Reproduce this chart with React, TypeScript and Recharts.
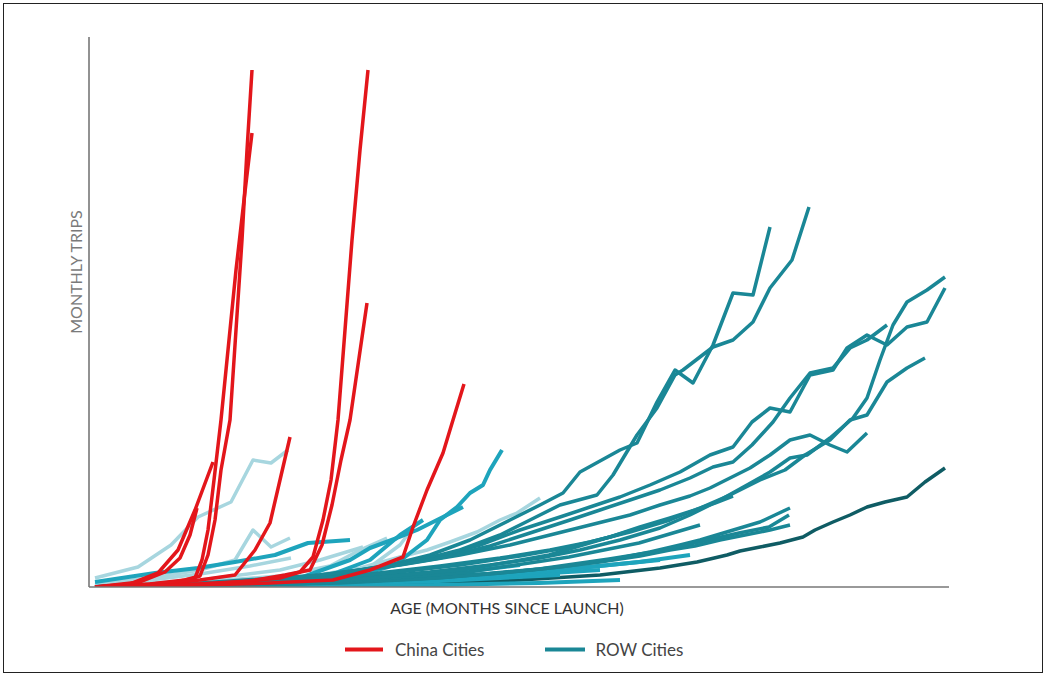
import { LineChart, Line, XAxis, YAxis } from "recharts";

// [age in months, monthly trips (index units)]
type Pt = [number, number];

// China cities
const chinaA: Pt[] = [[0.6, 0], [6.1, 0.6], [9.6, 1.4], [11.1, 2.2], [11.9, 6.4], [12.6, 13.4], [13.2, 23.4], [14.1, 33.4], [14.7, 51.4], [15.3, 69.4], [15.8, 87.4], [16.3, 103.4]];
const chinaB: Pt[] = [[0.6, 0], [5.1, 0.4], [8.6, 1], [10.6, 1.8], [11.3, 5.4], [11.9, 11.4], [12.5, 21.4], [13.2, 33.4], [13.9, 47.4], [14.7, 63.4], [15.5, 77.4], [16.3, 90.8]];
const chinaC: Pt[] = [[0.6, 0], [4.1, 0.6], [6.9, 2.8], [8.9, 7.4], [10.6, 15.4], [12.4, 25]];
const chinaD: Pt[] = [[0.6, 0], [5.1, 1], [7.6, 3], [9.1, 5.8], [10.1, 10.4], [10.8, 15.8]];
const chinaE: Pt[] = [[0.6, 0], [6.1, 0.4], [11.1, 1.4], [14.6, 2.4], [16.6, 7.4], [18.1, 12.8], [19.1, 21.4], [20.1, 30]];
const chinaF: Pt[] = [[0.6, 0], [9.1, 0.4], [15.1, 1], [19.1, 1.8], [21.1, 3], [22.4, 6], [23.4, 13.4], [24.2, 21.4], [24.9, 33.4], [25.6, 51.4], [26.3, 69.4], [27.1, 87.4], [27.9, 103.4]];
const chinaG: Pt[] = [[0.6, 0], [11.1, 0.6], [16.1, 1.2], [19.6, 2.4], [22.1, 3.4], [23.3, 8.4], [24.3, 16.4], [25.2, 25.4], [26.1, 33.4], [26.9, 44.4], [27.8, 56.8]];
const chinaH: Pt[] = [[0.6, 0], [11.1, 0.4], [18.1, 0.8], [24.4, 1.4], [28.1, 3.4], [31.4, 6], [32.4, 12], [33.8, 19.4], [35.4, 26.8], [36.4, 33.4], [37.5, 40.6]];

// ROW cities, light (early launches)
const rowLight1: Pt[] = [[0.6, 1.8], [4.9, 4], [8.2, 8.4], [10.9, 14], [14.2, 17], [16.4, 25.4], [18.2, 24.8], [19.9, 27.4]];
const rowLight2: Pt[] = [[0.6, 0.6], [6.1, 1.8], [11.1, 3.4], [14.6, 5.4], [16.4, 11.4], [18.2, 8], [20.1, 9.8]];
const rowLight3: Pt[] = [[0.6, 0.4], [6.1, 1.4], [11.1, 2.6], [16.1, 4.2], [20.2, 5.8]];
const rowLight4: Pt[] = [[0.6, 0.2], [11.1, 1], [19.1, 2.2], [24.1, 4.2], [27.1, 7.4], [29.8, 9.8]];
const rowLight5: Pt[] = [[0.6, 0.2], [16.1, 1], [24.1, 2.2], [28.1, 4], [31.1, 8.4], [32.6, 12.4]];
const rowLight6: Pt[] = [[0.6, 0.2], [11.1, 0.6], [21.1, 1.8], [27.1, 3.8], [31.1, 6], [33.8, 7.4], [36.1, 9], [38.8, 11], [41.1, 13.4], [42.8, 14.8], [45.1, 17.8]];
const rowLight7: Pt[] = [[0.6, 0.2], [11.1, 1.4], [19.1, 3.4], [23.1, 5.4], [27.4, 8]];
const rowLight8: Pt[] = [[0.6, 0], [15, 0.4], [25, 0.6], [31, 0.8]];

// ROW cities, mid cyan
const rowCyan1: Pt[] = [[0.6, 0], [6.1, 0.2], [16.1, 0.8], [23.1, 1.8], [28.1, 3], [30.6, 4.4], [32.1, 6.8], [33.8, 9.4], [35.1, 13.4], [36.8, 16], [38.1, 18.8], [39.4, 20.4], [40.1, 23.4], [41.3, 27.4]];
const rowCyan2: Pt[] = [[0.6, 0], [11.1, 0.4], [21.1, 1.8], [26.1, 5.4], [28.1, 7.8], [30.8, 9.8], [32.8, 11.4], [34.8, 13.4], [37.4, 16]];
const rowCyan3: Pt[] = [[0.6, 1], [6.6, 2.8], [10.9, 3.8], [14.6, 5], [18.6, 6.4], [21.9, 8.8], [26.1, 9.4]];
const rowCyan4: Pt[] = [[0.6, 0], [16.1, 0.6], [24.1, 2.4], [28.1, 5.4], [31.1, 10.4], [33.4, 13.4]];
const rowBase1: Pt[] = [[0.6, 0], [20, 0.2], [35, 0.4], [45, 0.8], [53.1, 1.4]];
const rowBase2: Pt[] = [[0.6, 0], [20, 0.4], [35, 1.2], [47.1, 2.4]];
const rowBase3: Pt[] = [[0.6, 0], [25, 0.8], [40, 2], [51.1, 3.4]];
const rowBase4: Pt[] = [[0.6, 0], [25, 1], [40, 2.6], [50, 4], [57.1, 5.4]];
const rowBase5: Pt[] = [[0.6, 0], [20, 0.8], [35, 2.4], [43.1, 4.4]];
const rowBase6: Pt[] = [[0.6, 0], [30, 1.2], [45, 3], [55, 5], [60.1, 6.4]];

// ROW cities, teal
const rowTeal1: Pt[] = [[0.6, 0], [6.1, 0.2], [16.1, 1], [24.1, 2.4], [30.1, 4.4], [34.1, 6.4], [38.1, 9.4], [42.1, 13.4], [45.1, 16.4], [47.4, 18.8], [49.1, 23], [53.1, 27.4], [54.8, 28.8], [56.8, 37], [58.6, 43.4], [60.4, 40.8], [62.4, 48.4], [64.4, 58.8], [66.4, 58.4], [68.1, 72]];
const rowTeal2: Pt[] = [[0.6, 0], [9.1, 0.2], [19.1, 1.4], [27.1, 3.4], [33.1, 5.4], [37.1, 7.4], [41.1, 10.4], [44.1, 13.4], [47.1, 16.4], [50.8, 18.4], [52.4, 22.4], [54.8, 30.4], [56.8, 35.8], [58.6, 42.4], [59.4, 43.4], [62.4, 48], [64.4, 49.4], [66.4, 53], [68.1, 59.8], [70.3, 65.4], [72, 76]];
const rowTeal3: Pt[] = [[0.6, 0], [16.1, 0.8], [27.1, 1.8], [34.1, 3], [40.1, 4.4], [45.1, 5.8], [49.1, 7.4], [53.1, 9.4], [57.1, 11.8], [60.1, 14.4], [63.1, 17.4], [65.8, 20.4], [68.1, 23], [70.1, 25.8], [71.8, 26.4], [74.1, 29.8], [76.4, 33.8], [77.8, 37.8], [79.1, 45.4], [80.4, 52.4], [81.8, 57], [83.8, 59.4], [85.6, 62]];
const rowTeal4: Pt[] = [[0.6, 0], [13.1, 0.8], [23.1, 2.2], [30.1, 4.2], [35.1, 6.2], [39.1, 8.4], [43.1, 11.4], [47.1, 14], [50.1, 16], [53.1, 18], [56.1, 20.4], [59.1, 23], [62.1, 26.4], [64.4, 28], [66.3, 33], [68.1, 35.8], [70.1, 35], [72.1, 42.4], [74.4, 43.4], [75.8, 47.8], [77.8, 50.4], [79.8, 48.4], [81.8, 52], [83.8, 53], [85.6, 59.8]];
const rowTeal5: Pt[] = [[0.6, 0], [11.1, 0.6], [21.1, 1.8], [29.1, 3.8], [35.1, 5.8], [40.1, 8.2], [44.1, 10.8], [48.1, 13.4], [51.1, 15.4], [54.1, 17.4], [57.1, 19.4], [60.1, 21.8], [62.4, 24], [64.4, 25], [66.3, 28.4], [68.4, 33], [70.1, 37.8], [72.1, 42.8], [74.4, 43.8], [76.1, 47.8], [77.8, 49.4], [79.8, 52.4]];
const rowTeal6: Pt[] = [[0.6, 0], [9.1, 0.4], [19.1, 1.2], [28.1, 2.6], [35.1, 4.2], [41.1, 5.8], [46.1, 7.4], [50.1, 9], [54.1, 11], [58.1, 13.4], [61.1, 15.8], [64.1, 18.4], [67.1, 21.4], [69.6, 23.4], [71.6, 26.4], [74.1, 29.4], [76.1, 33.4], [77.8, 34.4], [79.8, 41], [81.8, 43.8], [83.6, 45.8]];
const rowTeal7: Pt[] = [[0.6, 0], [11.1, 0.8], [23.1, 2.4], [31.1, 4.4], [37.1, 6.4], [42.1, 8.4], [46.1, 10.4], [50.1, 12.4], [54.1, 14.4], [57.1, 16.4], [60.1, 18.2], [62.1, 19.8], [64.1, 21.8], [66.1, 23.8], [68.1, 26.4], [70.1, 29.4], [72.1, 30.4], [74.1, 28.4], [75.8, 27], [77.8, 30.8]];
const rowTeal8: Pt[] = [[0.6, 0], [16.1, 0.4], [26.1, 1], [34.1, 1.8], [41.1, 2.8], [47.1, 4], [52.1, 5.4], [56.1, 7], [59.1, 8.4], [61.1, 9.4], [63.1, 10.6], [65.1, 11.8], [67.1, 13], [68.6, 14.4], [70.1, 15.8]];
const rowTeal9: Pt[] = [[0.6, 0], [11.1, 0.2], [25.1, 0.8], [33.1, 1.6], [40.1, 2.6], [46.1, 3.8], [51.1, 5], [55.1, 6.2], [58.1, 7.4], [60.6, 8.2], [63.1, 9.4], [65.6, 10.4], [68.1, 11.4], [70.1, 12.4]];
const rowTeal10: Pt[] = [[0.6, 0], [20, 0.6], [35, 1.8], [45, 3.6], [52, 5.6], [57, 7.2], [61, 9], [65, 10.8], [68, 12], [70, 14.4]];
const rowTeal11: Pt[] = [[0.6, 0], [11.1, 0.4], [21.1, 1.4], [30.1, 2.8], [37.1, 4.4], [43.1, 6.2], [48.1, 8], [52.1, 10], [55.1, 12], [58.1, 13.8], [60.6, 15.4], [62.6, 16.8], [64.4, 18.2]];
const rowTeal12: Pt[] = [[0.6, 0], [25, 1], [38, 3], [48, 6], [55, 8.8], [61.1, 12.4]];
const rowTeal13: Pt[] = [[0.6, 0], [25, 1.2], [38, 3.6], [46, 6.4], [55.1, 11.8]];
const rowDark: Pt[] = [[0.6, 0], [21.1, 0.2], [33.1, 0.6], [43.1, 1.4], [51.1, 2.4], [57.1, 3.8], [60.8, 5], [62.1, 5.6], [63.8, 6.4], [65.1, 7.2], [67.1, 8], [69.1, 8.8], [71.4, 10], [72.6, 11.4], [74.4, 13], [76.1, 14.4], [77.8, 16], [79.6, 17], [81.8, 18], [83.6, 21], [85.6, 23.8]];

const lightSeries = [rowLight1, rowLight2, rowLight3, rowLight4, rowLight5, rowLight6, rowLight7, rowLight8];
const cyanSeries = [rowCyan1, rowCyan2, rowCyan3, rowCyan4, rowBase1, rowBase2, rowBase3, rowBase4, rowBase5, rowBase6];
const tealSeries = [rowTeal1, rowTeal2, rowTeal3, rowTeal4, rowTeal5, rowTeal6, rowTeal7, rowTeal8, rowTeal9, rowTeal10, rowTeal11, rowTeal12, rowTeal13];
const chinaSeries = [chinaA, chinaB, chinaC, chinaD, chinaE, chinaF, chinaG, chinaH];

const RED = "#e3161b";
const TEAL = "#1a8796";
const CYAN = "#1ea4bc";
const LIGHT = "#a7d6df";
const DARK = "#0f5c64";

const toRows = (pts: Pt[]) => pts.map(([age, trips]) => ({ age, trips }));

function cityLines(group: Pt[][], name: string, color: string, width: number) {
  return group.map((pts, i) => (
    <Line
      key={`${name}-${i}`}
      data={toRows(pts)}
      dataKey="trips"
      type="linear"
      stroke={color}
      strokeWidth={width}
      strokeLinejoin="round"
      dot={false}
      activeDot={false}
      isAnimationActive={false}
    />
  ));
}

export default function App() {
  return (
    <div style={{ position: "absolute", left: 0, top: 0, width: 1047, height: 677, background: "#fff", fontFamily: "Lato, 'Open Sans', sans-serif" }}>
      <div style={{ position: "absolute", left: 3, top: 3, width: 1038, height: 668, border: "1px solid #222" }} />
      <LineChart
        width={1047}
        height={677}
        margin={{ top: 37, right: 98, bottom: 89, left: 88 }}
        style={{ position: "absolute", left: 0, top: 0 }}
      >
        <XAxis
          dataKey="age"
          type="number"
          domain={[0, 86]}
          allowDataOverflow
          height={1}
          tick={false}
          tickLine={false}
          axisLine={{ stroke: "#777", strokeWidth: 1.6 }}
        />
        <YAxis
          type="number"
          domain={[0, 110]}
          allowDataOverflow
          width={1}
          tick={false}
          tickLine={false}
          axisLine={{ stroke: "#777", strokeWidth: 1.6 }}
        />
        {cityLines([rowDark], "dark", DARK, 3.5)}
        {cityLines(lightSeries, "light", LIGHT, 3.5)}
        {cityLines(cyanSeries, "cyan", CYAN, 4)}
        {cityLines(tealSeries, "teal", TEAL, 3.5)}
        {cityLines(chinaSeries, "china", RED, 3.5)}
      </LineChart>
      <div
        style={{
          position: "absolute",
          left: 75,
          top: 272,
          transform: "translate(-50%, -50%) rotate(-90deg)",
          whiteSpace: "nowrap",
          fontSize: 16,
          color: "#7a7a7a",
        }}
      >
        MONTHLY TRIPS
      </div>
      <div style={{ position: "absolute", left: 507, top: 607, transform: "translate(-50%, -50%)", whiteSpace: "nowrap", fontSize: 16, color: "#333" }}>
        AGE (MONTHS SINCE LAUNCH)
      </div>
      <div style={{ position: "absolute", left: 345, top: 649, display: "flex", alignItems: "center", transform: "translateY(-50%)", fontSize: 17, color: "#444" }}>
        <span style={{ display: "inline-block", width: 38, height: 4, background: RED, marginRight: 12 }} />
        <span>China Cities</span>
        <span style={{ display: "inline-block", width: 40, height: 4, background: TEAL, marginLeft: 61, marginRight: 10 }} />
        <span>ROW Cities</span>
      </div>
    </div>
  );
}
